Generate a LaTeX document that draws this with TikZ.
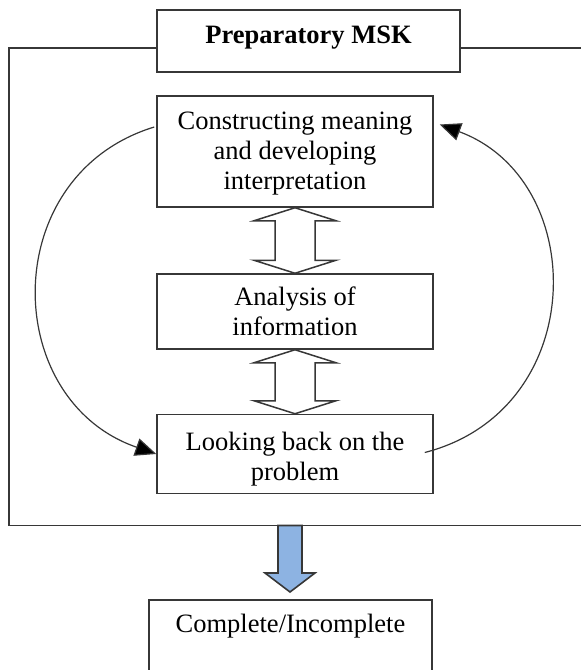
\documentclass[tikz,border=0pt]{standalone}
\usepackage{fontspec}
\setmainfont{Liberation Serif}
\usetikzlibrary{calc,arrows.meta}
\definecolor{linegray}{RGB}{55,55,55}
\definecolor{arrowblue}{RGB}{141,179,226}
\begin{document}
\begin{tikzpicture}
[x=1pt,y=-1pt,
  boxdecorate/.style={shape=rectangle,draw=linegray,line width=1.5pt,fill=white,
    minimum width=276pt,align=center,inner sep=0pt,
    font=\fontsize{26.5}{30}\selectfont},
  curvedecorate/.style={-{Triangle[length=21pt,width=18pt,fill=black]},draw=linegray,line width=1.2pt},
  hollowdecorate/.style={draw=linegray,line width=1.5pt,fill=white,line join=miter},
  bluedecorate/.style={draw=linegray,line width=1.6pt,fill=arrowblue}]
\useasboundingbox (0,0) rectangle (581,670);
%% outer frame
\draw[draw=linegray,line width=1.5pt] (9,48) rectangle (600,525.5);
\coordinate (framebottom) at (290,525.5);
%% nodes or vertices
\node (prep) at (308.5,41) [boxdecorate,minimum width=303pt,minimum height=62pt,
  text depth=13.5pt,font=\bfseries\fontsize{26.5}{30}\selectfont] {Preparatory MSK};
\foreach \nodename/\y/\h/\r/\txt in {construct/151.5/111/22/{Constructing meaning\\and developing\\interpretation},
  analysis/311.5/75/18/{Analysis of\\information}, lookback/454/79/28/{Looking back on the\\problem}} {
  \node (\nodename) at (295,\y) [boxdecorate,minimum height=\h pt] {\rule{0pt}{\r pt}\txt};
}
\node (outcome) at (290.5,599) [boxdecorate,anchor=north,minimum width=283pt,
  text height=25pt,text depth=60pt,inner ysep=8pt] {Complete/Incomplete};
%% edges or lines
\foreach \startnode/\endnode in {construct/analysis, analysis/lookback} {
  \draw[hollowdecorate] (\startnode.south) -- ++(41,13) -- ++(-21,0)
    -- ($(\endnode.north)+(20,-13)$) -- ++(21,0) -- (\endnode.north)
    -- ++(-41,-13) -- ++(21,0) -- ($(\startnode.south)+(-20,13)$) -- ++(-21,0) -- cycle;
}
\draw[bluedecorate] ($(framebottom)+(-12,0)$) -- ++(0,47.5) -- ++(-13,0)
  -- ($(outcome.north)+(-0.5,-7)$) -- ++(25,-19) -- ++(-13,0) -- ($(framebottom)+(12,0)$) -- cycle;
\draw[curvedecorate] ($(construct.west)+(-2,-24.5)$) .. controls (-3,175) and (0,400) .. (lookback.west);
\draw[curvedecorate] ($(lookback.east)+(-9,-1.5)$) .. controls (590,410) and (590,180) .. ($(construct.east)+(6,-27)$);
\end{tikzpicture}
\end{document}
